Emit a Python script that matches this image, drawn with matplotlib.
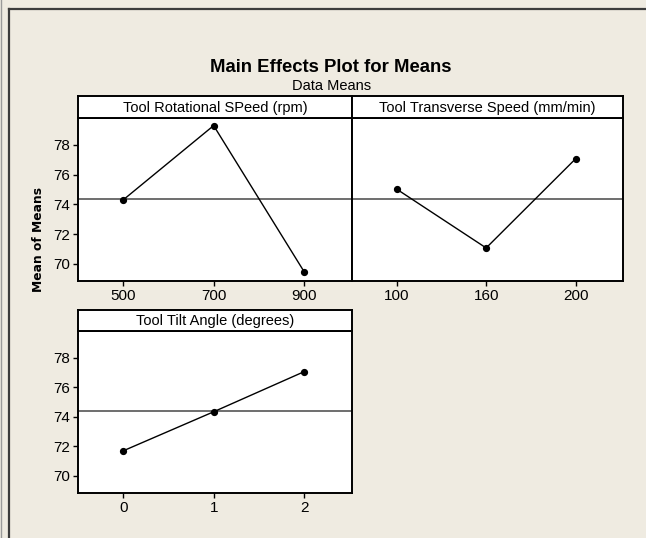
import numpy as np
import matplotlib
matplotlib.use("Agg")
import matplotlib.pyplot as plt
from matplotlib.lines import Line2D

# ---- data ----
rot_levels = ["500", "700", "900"]
rot_means = [74.30, 79.29, 69.48]
trans_levels = ["100", "160", "200"]
trans_means = [75.02, 71.07, 77.06]
tilt_levels = ["0", "1", "2"]
tilt_means = [71.70, 74.34, 77.05]
y_ticks = [70, 72, 74, 76, 78]

panels = [
    ("Tool Rotational SPeed (rpm)", rot_levels, rot_means),
    ("Tool Transverse Speed (mm/min)", trans_levels, trans_means),
    ("Tool Tilt Angle (degrees)", tilt_levels, tilt_means),
]
grand_mean = np.mean(np.concatenate([rot_means, trans_means, tilt_means]))

BG = "#efebe1"
FONT = ["Liberation Sans", "DejaVu Sans"]

W, H = 646, 538
fig = plt.figure(figsize=(W / 100, H / 100), dpi=100)
fig.patch.set_facecolor(BG)

def fx(px):
    return px / W

def fy(py):
    return 1 - py / H

# panel boxes in pixels: (left, right, strip top, plot top, plot bottom)
boxes = [(78, 352, 96, 118, 281),
         (352, 623, 96, 118, 281),
         (78, 352, 310, 331, 493)]

for i, ((title, levels, means), (l, r, st, pt, pb)) in enumerate(zip(panels, boxes)):
    ax = fig.add_axes([fx(l), fy(pb), fx(r) - fx(l), fy(pt) - fy(pb)])
    ax.set_facecolor("white")
    x = np.arange(len(levels))
    ax.axhline(grand_mean, color="#555555", lw=1.2, zorder=1)
    ax.plot(x, means, color="black", lw=1.0, marker="o", ms=4.2, zorder=3)
    ax.set_xlim(-0.5, 2.53)
    ax.set_ylim(68.85, 79.8)
    ax.set_xticks(x)
    ax.set_xticklabels(levels, family=FONT, fontsize=11)
    ax.set_yticks(y_ticks)
    if i == 1:
        ax.tick_params(axis="y", left=False, labelleft=False)
    else:
        ax.set_yticklabels([str(t) for t in y_ticks], family=FONT, fontsize=11)
    ax.tick_params(direction="out", length=3.5, width=1, pad=2.5, colors="black")
    for s in ax.spines.values():
        s.set_linewidth(1.4)
        s.set_color("black")

    # strip header
    sx = fig.add_axes([fx(l), fy(pt), fx(r) - fx(l), fy(st) - fy(pt)])
    sx.set_facecolor("white")
    sx.set_xticks([])
    sx.set_yticks([])
    for s in sx.spines.values():
        s.set_linewidth(1.4)
        s.set_color("black")
    sx.text(0.5, 0.47, title, transform=sx.transAxes, ha="center", va="center",
            family=FONT, fontsize=10.5)

fig.text(fx(331), fy(67), "Main Effects Plot for Means", ha="center", va="center",
         family=FONT, fontsize=13.3, fontweight="bold")
fig.text(fx(332), fy(86), "Data Means", ha="center", va="center",
         family=FONT, fontsize=10.5)
fig.text(fx(38), fy(240), "Mean of Means", ha="center", va="center", rotation=90,
         family="DejaVu Sans", fontsize=8.8, fontweight="bold")

# outer window frame
fig.add_artist(Line2D([fx(0.5), fx(0.5)], [0, 1], color="#9a9a9a", lw=1.0))
fig.add_artist(Line2D([fx(9), fx(9)], [0, fy(9)], color="#3c3c3c", lw=1.6))
fig.add_artist(Line2D([fx(9), 1], [fy(9), fy(9)], color="#3c3c3c", lw=1.6))

fig.savefig("out.png", dpi=100, facecolor=BG)
